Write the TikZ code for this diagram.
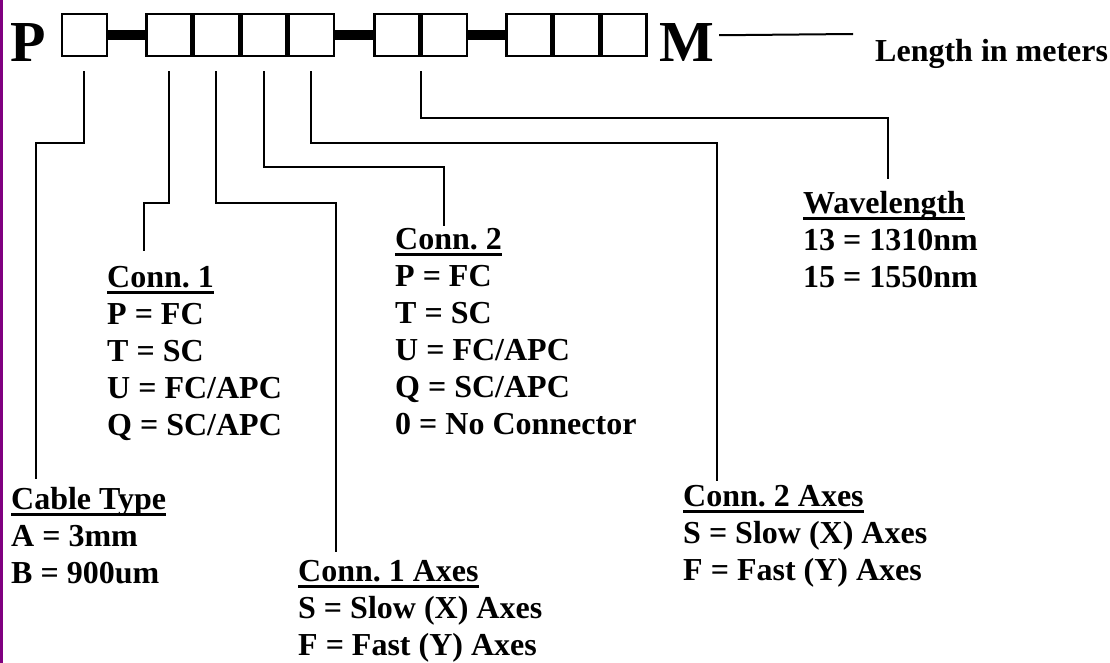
\documentclass[tikz,border=0pt]{standalone}
\usepackage{fontspec}
\setmainfont{Liberation Serif}
\usepackage{tikz}
\usetikzlibrary{positioning}
\definecolor{frame}{RGB}{128,0,128}
\newcommand\ulhead[1]{\setbox0\hbox{#1}\rlap{\rule[-6.5pt]{\wd0}{3pt}}\box0}
\frenchspacing

\begin{document}
\begin{tikzpicture}[x=1pt,y=-1pt,
  every node/.style={font=\fontsize{32}{37}\selectfont\bfseries},
  cell/.style={draw,fill=white,line width=2.5pt,minimum width=45pt,minimum height=42pt,inner sep=0pt},
  bar/.style={line width=10pt},
  lead/.style={line width=2pt},
  legend/.style={anchor=north west,align=left,inner sep=0pt}]
\useasboundingbox (0,0) rectangle (1110,663);
\fill[frame] (0,0) rectangle (3,663);
% part number boxes
\node[cell] (b1) at (84.25,35.25) {};
\node[cell,right=37pt of b1] (b2) {};
\node[cell,right=0pt of b2] (b3) {};
\node[cell,right=0pt of b3] (b4) {};
\node[cell,right=0pt of b4] (b5) {};
\node[cell,right=38pt of b5] (b6) {};
\node[cell,right=0pt of b6] (b7) {};
\node[cell,right=37pt of b7] (b8) {};
\node[cell,right=0pt of b8] (b9) {};
\node[cell,right=0pt of b9] (b10) {};
\draw[bar] (b1.east)--(b2.west); \draw[bar] (b5.east)--(b6.west); \draw[bar] (b7.east)--(b8.west);
\node[font=\fontsize{58}{58}\selectfont\bfseries,anchor=base west,inner sep=0pt] (pch) at (10,62) {P};
\node[font=\fontsize{58}{58}\selectfont\bfseries,anchor=base west,inner sep=0pt] (mch) at (659,62) {M};
\node[anchor=base west,inner sep=0pt] (len) at (875,62) {Length in meters};
\coordinate (mend) at (853,34);
\draw[lead] (mch.east |- b10.east) ++(5,0) -- (mend);
% legends
\node[legend] (cable) at (11,487) {\ulhead{Cable Type}\\A = 3mm\\B = 900um};
\node[legend] (conn1) at (107,266) {\ulhead{Conn. 1}\\P = FC\\T = SC\\U = FC/APC\\Q = SC/APC};
\node[legend] (conn2) at (395,228) {\ulhead{Conn. 2}\\P = FC\\T = SC\\U = FC/APC\\Q = SC/APC\\0 = No Connector};
\node[legend] (axes1) at (298,560) {\ulhead{Conn. 1 Axes}\\S = Slow (X) Axes\\F = Fast (Y) Axes};
\node[legend] (axes2) at (683,485) {\ulhead{Conn. 2 Axes}\\S = Slow (X) Axes\\F = Fast (Y) Axes};
\node[legend] (wave) at (803,191) {\ulhead{Wavelength}\\13 = 1310nm\\15 = 1550nm};
% leads
\draw[lead] ([yshift=-14pt]b1.south) -- ++(0,72) -| ([shift={(25,-8)}]cable.north west);
\draw[lead] ([yshift=-14pt]b2.south) -- ++(0,131) -| ([shift={(37,-15)}]conn1.north west);
\draw[lead] ([yshift=-14pt]b3.south) -- ++(0,131) -| ([shift={(38,-8)}]axes1.north west);
\draw[lead] ([yshift=-14pt]b4.south) -- ++(0,96) -| ([shift={(49,-2)}]conn2.north west);
\draw[lead] ([yshift=-14pt]b5.south) -- ++(0,72) -| ([shift={(34,-4)}]axes2.north west);
\draw[lead] ([yshift=-14pt]b6.south east) -- ++(0,47) -| ([shift={(85,-12)}]wave.north west);
\end{tikzpicture}
\end{document}
